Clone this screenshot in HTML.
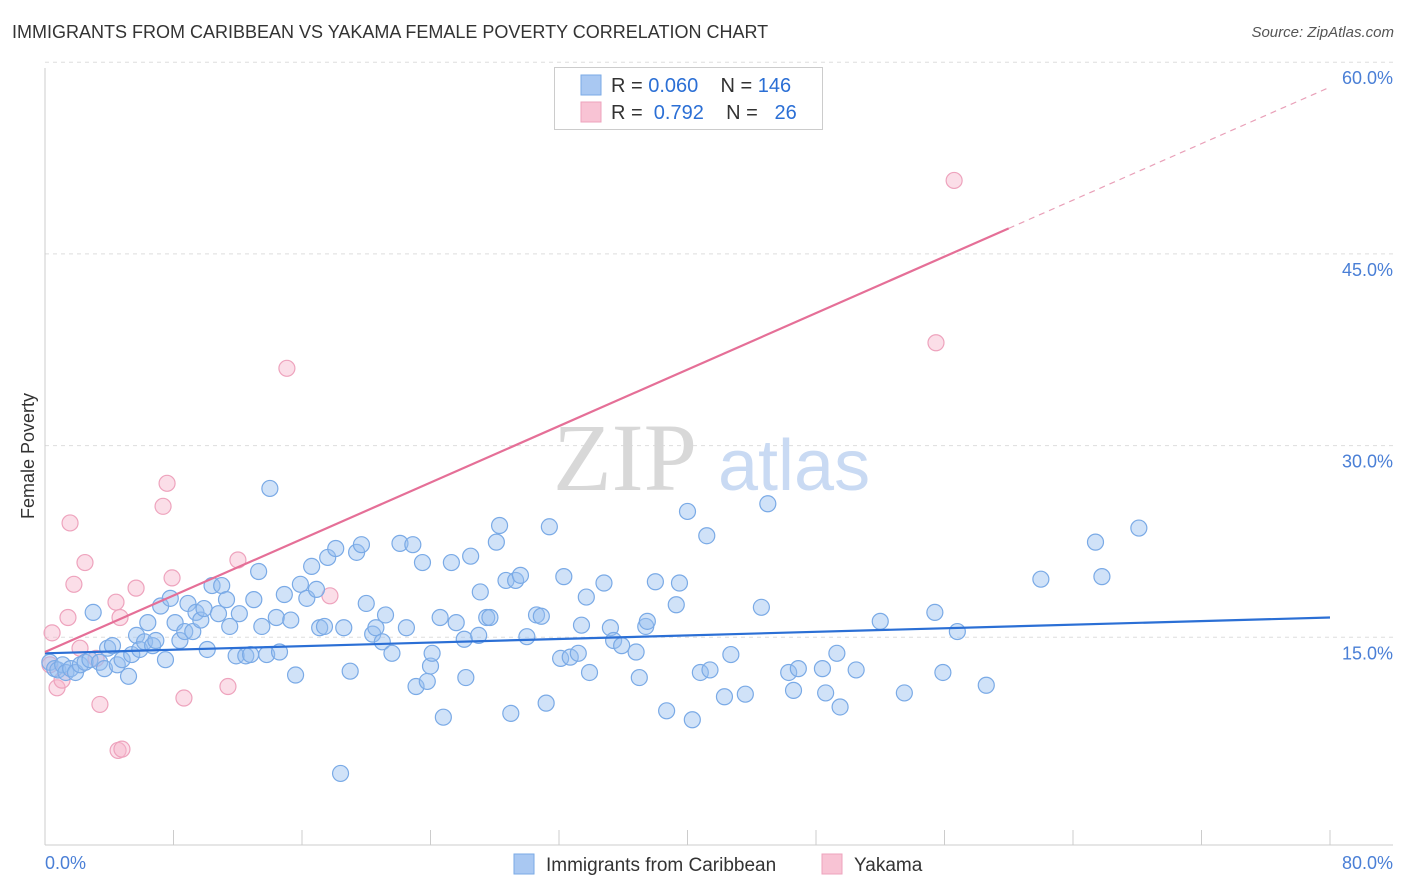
<!DOCTYPE html>
<html><head><meta charset="utf-8">
<style>
body{margin:0;background:#fff;font-family:"Liberation Sans",sans-serif;}
#wrap{position:relative;width:1406px;height:892px;overflow:hidden;}
.t{position:absolute;white-space:nowrap;}
</style></head>
<body>
<div id="wrap">
<div class="t" style="left:12px;top:22px;font-size:18px;color:#333;">IMMIGRANTS FROM CARIBBEAN VS YAKAMA FEMALE POVERTY CORRELATION CHART</div>
<div class="t" style="right:12px;top:24px;font-size:15px;color:#555;font-style:italic;">Source: ZipAtlas.com</div>
<svg id="chart" width="1406" height="892" style="position:absolute;left:0;top:0"></svg>
</div>
<script>
const yTicks=[15,30,45,60];
const xTickLabels=["0.0%","80.0%"];
const blueX=[0.3,0.6,0.8,1.1,1.3,1.6,1.9,2.2,2.5,2.8,3.0,3.4,3.7,3.9,4.2,4.5,4.8,5.2,5.4,5.7,5.9,6.2,6.4,6.7,6.9,7.2,7.5,7.8,8.1,8.4,8.7,8.9,9.2,9.4,9.7,9.9,10.1,10.4,10.8,11.0,11.3,11.5,11.9,12.1,12.5,12.8,13.0,13.3,13.5,13.8,14.0,14.4,14.6,14.9,15.3,15.6,15.9,16.3,16.6,16.9,17.1,17.4,17.6,18.1,18.6,19.0,19.4,19.7,20.0,20.4,20.6,21.0,21.2,21.6,22.1,22.5,22.9,23.1,23.5,23.8,24.0,24.1,24.6,24.8,25.3,25.6,26.1,26.2,26.5,27.0,27.1,27.5,27.7,28.1,28.3,28.7,29.0,29.3,29.6,30.0,30.6,30.9,31.2,31.4,32.1,32.3,32.7,33.2,33.4,33.9,33.7,34.8,35.2,35.4,35.9,36.8,37.0,37.4,37.5,38.0,38.7,39.3,39.5,40.0,40.3,40.8,41.2,41.4,42.3,42.7,43.6,44.6,45.0,46.3,46.6,46.9,48.4,48.6,49.3,49.5,50.5,52.0,53.5,55.4,55.9,56.8,58.6,62.0,65.4,65.8,68.1,18.4];
const blueY=[14.3,13.8,13.7,14.1,13.5,13.8,13.5,14.1,14.3,14.5,18.2,14.3,13.8,15.4,15.6,14.1,14.5,13.2,14.9,16.4,15.3,15.9,17.4,15.6,16.0,18.7,14.5,19.3,17.4,16.0,16.7,18.9,16.7,18.2,17.6,18.5,15.3,20.3,18.1,20.3,19.2,17.1,14.8,18.1,14.8,14.9,19.2,21.4,17.1,14.9,27.9,17.8,15.1,19.6,17.6,13.3,20.4,19.3,21.8,20.0,17.0,17.1,22.5,23.2,17.0,13.6,22.9,23.5,18.9,16.5,17.0,15.9,18.0,15.0,23.6,17.0,23.5,12.4,22.1,12.8,14.0,15.0,17.8,10.0,22.1,17.4,16.1,13.1,22.6,16.4,19.8,17.8,17.8,23.7,25.0,20.7,10.3,20.7,21.1,16.3,18.0,17.9,11.1,24.9,14.6,21.0,14.7,15.0,17.2,13.5,19.4,20.5,17.0,16.0,15.6,15.1,13.1,17.1,17.5,20.6,10.5,18.8,20.5,26.1,9.8,13.5,24.2,13.7,11.6,14.9,11.8,18.6,26.7,13.5,12.1,13.8,13.8,11.9,15.0,10.8,13.7,17.5,11.9,18.2,13.5,16.7,12.5,20.8,23.7,21.0,24.8,5.6];
const pinkX=[0.44,0.75,1.06,1.43,1.56,1.8,2.18,2.49,3.18,3.42,4.42,4.55,4.79,4.67,5.67,7.35,7.6,7.91,8.65,11.39,12.01,15.06,17.74,56.6,55.47,0.31];
const pinkY=[16.6,12.3,12.9,17.8,25.2,20.4,15.4,22.1,14.6,11.0,19.0,7.4,7.5,17.8,20.1,26.5,28.3,20.9,11.5,12.4,22.3,37.3,19.5,52.0,39.3,14.1];
const blueTrend=[15.0,17.8];
const pinkTrend=[15.1,59.3];
const X0=45,X1=1330,Y0=845,PX=12.78;
const sx=v=>X0+(v/80)*(X1-X0);
const sy=v=>Y0-v*PX;
const svg=document.getElementById('chart');
const NS='http://www.w3.org/2000/svg';
function mk(tag,attrs){const e=document.createElementNS(NS,tag);for(const k in attrs)e.setAttribute(k,attrs[k]);svg.appendChild(e);return e;}
// gridlines
yTicks.forEach(v=>{
 const g=mk('line',{x1:X0,x2:1393,y1:sy(v)-manualOffset(v),y2:sy(v)-manualOffset(v),stroke:'#ddd','stroke-dasharray':'4,4'});
 
 
 const t=mk('text',{x:1393,y:sy(v)+6,'text-anchor':'end','font-size':18,fill:'#4a7fd6','font-family':'Liberation Sans'});
 t.textContent=v.toFixed(1)+'%';
 
 
});
function manualOffset(v){return 16;}
// axes
const ax=mk('line',{x1:X0,x2:X0,y1:68,y2:Y0,stroke:'#ccc'});


const bx=mk('line',{x1:X0,x2:1393,y1:Y0,y2:Y0,stroke:'#ccc'});


for(let i=0;i<=10;i++){
 const tk=mk('line',{x1:sx(i*8),x2:sx(i*8),y1:Y0-15,y2:Y0,stroke:'#ccc'});
 
 
}
const xl0=mk('text',{x:45,y:869,'font-size':18,fill:'#4a7fd6','font-family':'Liberation Sans'});xl0.textContent=xTickLabels[0];


const xl1=mk('text',{x:1393,y:869,'text-anchor':'end','font-size':18,fill:'#4a7fd6','font-family':'Liberation Sans'});xl1.textContent=xTickLabels[1];


const yt=mk('text',{x:0,y:0,'font-size':18,fill:'#333','font-family':'Liberation Sans','text-anchor':'middle',transform:'translate(34,456) rotate(-90)'});yt.textContent='Female Poverty';


// watermark
const wm=mk('text',{x:553,y:490,'font-size':96,fill:'#d8d8d8','font-family':'Liberation Serif'});wm.textContent='ZIP';


const wm2=mk('text',{x:718,y:490,'font-size':72,fill:'#c9daf3','font-family':'Liberation Sans'});wm2.textContent='atlas';


// points
pinkX.forEach((x,i)=>{
 const c=mk('circle',{cx:sx(x),cy:sy(pinkY[i]),r:8,fill:'rgba(247,182,204,0.45)',stroke:'#eea3bd','stroke-width':1.2});
 
 
});
blueX.forEach((x,i)=>{
 const c=mk('circle',{cx:sx(x),cy:sy(blueY[i]),r:8,fill:'rgba(150,190,240,0.45)',stroke:'#7aaae6','stroke-width':1.2});
 
 
});
// trend lines
const bl=mk('line',{x1:sx(0),y1:sy(blueTrend[0]),x2:sx(80),y2:sy(blueTrend[1]),stroke:'#2b6fd5','stroke-width':2.2});


const xs=60;const yMid=pinkTrend[0]+(pinkTrend[1]-pinkTrend[0])*xs/80;
const pl=mk('line',{x1:sx(0),y1:sy(pinkTrend[0]),x2:sx(xs),y2:sy(yMid),stroke:'#e56f97','stroke-width':2.2});


const pd=mk('line',{x1:sx(xs),y1:sy(yMid),x2:sx(80),y2:sy(pinkTrend[1]),stroke:'#e9a0b8','stroke-width':1.2,'stroke-dasharray':'6,5'});


// legend box
const lb=mk('rect',{x:554.5,y:67.5,width:268,height:62,fill:'#fff',stroke:'#ccc'});


[[76,'#a9c8f2','#7aaae6','R = ','0.060','N = ','146'],[103,'#f8c3d4','#eea3bd','R = ',' 0.792','N = ','  26']].forEach((r,i)=>{
 const s=mk('rect',{x:581,y:r[0]-1,width:20,height:20,fill:r[1],stroke:r[2]});
 
 
 const t=mk('text',{x:611,y:r[0]+16,'font-size':20,fill:'#333','font-family':'Liberation Sans','xml:space':'preserve'});
 t.innerHTML='R = <tspan fill="#2b6fd5">'+(i?' 0.792':'0.060')+'</tspan>    N = <tspan fill="#2b6fd5">'+(i?'  26':'146')+'</tspan>';
 t.setAttribute('style','white-space:pre');
 
 
});
// bottom legend
[[514,'#a9c8f2','#7aaae6','Immigrants from Caribbean',546],[822,'#f8c3d4','#eea3bd','Yakama',854]].forEach((r,i)=>{
 const s=mk('rect',{x:r[0],y:854,width:20,height:20,fill:r[1],stroke:r[2]});
 
 
 const t=mk('text',{x:r[4],y:871,'font-size':19,fill:'#333','font-family':'Liberation Sans'});
 t.textContent=r[3];
 
 
});
</script>
</body></html>
